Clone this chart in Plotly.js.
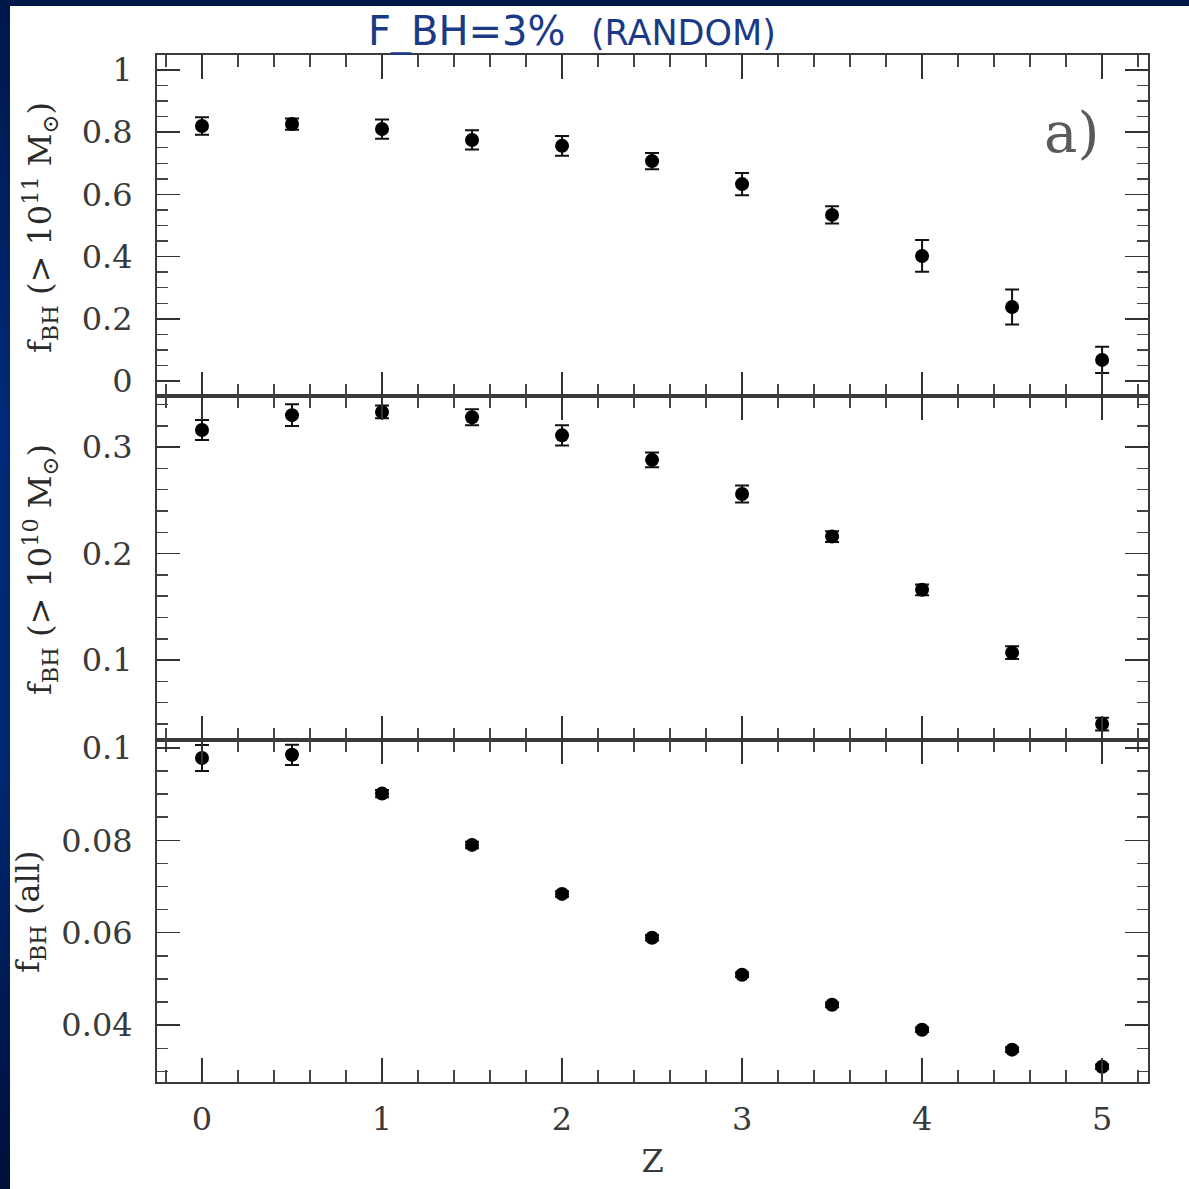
<!DOCTYPE html>
<html>
<head>
<meta charset="utf-8">
<script src="https://cdn.plot.ly/plotly-3.0.1.min.js"></script>
<style>
  html, body { margin: 0; padding: 0; width: 1189px; height: 1189px; overflow: hidden;
    background: linear-gradient(to bottom, #00174a 0%, #002a78 35%, #002870 65%, #000f3a 100%); }
  #top { position: absolute; left: 0; top: 0; width: 1189px; height: 6px; background: #00184a; }
  #chart { position: absolute; left: 10px; top: 6px; width: 1179px; height: 1183px; background: #fff; }
</style>
</head>
<body>
<div id="top"></div>
<div id="chart"></div>
<script>
// Redshift
const z = [0, 0.5, 1, 1.5, 2, 2.5, 3, 3.5, 4, 4.5, 5];

// Panel a (top): f_BH (> 1e11 Msun)
const fMassive = [0.820, 0.826, 0.810, 0.775, 0.756, 0.707, 0.633, 0.534, 0.402, 0.238, 0.068];
const fMassiveErr = [0.028, 0.018, 0.031, 0.031, 0.032, 0.026, 0.036, 0.028, 0.051, 0.056, 0.042];

// Middle: f_BH (> 1e10 Msun)
const fMid = [0.316, 0.330, 0.333, 0.328, 0.311, 0.288, 0.256, 0.216, 0.166, 0.107, 0.040];
const fMidErr = [0.0094, 0.0103, 0.006, 0.0075, 0.0094, 0.007, 0.008, 0.005, 0.005, 0.006, 0.006];

// Bottom: f_BH (all)
const fAll = [0.0978, 0.0985, 0.0901, 0.0790, 0.0684, 0.0589, 0.0509, 0.0444, 0.0390, 0.0347, 0.0310];
const fAllErr = [0.0028, 0.0022, 0.0008, 0.0007, 0.0006, 0.0006, 0.0005, 0.0005, 0.0005, 0.0005, 0.0005];

const titleText = 'F_BH=3%  <span style="font-size:35px">(RANDOM)</span>';
const yTitles = [
  'f<sub>BH</sub> (> 10<sup>11</sup> M<sub>⊙</sub>)',
  'f<sub>BH</sub> (> 10<sup>10</sup> M<sub>⊙</sub>)',
  'f<sub>BH</sub> (all)'
];

function series(y, err, ya, xa) {
  return {
    x: z, y: y, xaxis: xa, yaxis: ya, type: 'scatter', mode: 'markers',
    marker: { color: '#000', size: 14, symbol: 'circle' },
    error_y: { type: 'data', array: err, visible: true, color: '#111', thickness: 2, width: 7 },
    showlegend: false, hoverinfo: 'skip'
  };
}

const data = [
  series(fAll, fAllErr, 'y', 'x'),
  series(fMid, fMidErr, 'y2', 'x2'),
  series(fMassive, fMassiveErr, 'y3', 'x3')
];

const serif = 'DejaVu Serif, Liberation Serif, serif';
const tickFont = { family: serif, size: 32, color: '#3a3a3a' };
const lineCol = '#3a3a3a';

function xax(anchor, labels) {
  const a = {
    range: [-0.25, 5.255], anchor: anchor, showgrid: false, zeroline: false,
    showline: true, linecolor: lineCol, linewidth: 2, mirror: 'ticks',
    ticks: 'inside', ticklen: 24, tickwidth: 1.5, tickcolor: '#333', dtick: 1, tick0: 0,
    minor: { dtick: 0.2, ticks: 'inside', ticklen: 12, tickwidth: 1.5, tickcolor: '#444' },
    showticklabels: labels, tickfont: tickFont, ticklabelstandoff: 8
  };
  if (labels) {
    a.title = { text: 'Z', font: { family: serif, size: 32, color: '#3a3a3a' }, standoff: 12 };
  } else {
    a.matches = 'x';
  }
  return a;
}

function yax(domain, range, dtick, minor, anchor) {
  return {
    domain: domain, range: range, anchor: anchor, showgrid: false, zeroline: false,
    showline: true, linecolor: lineCol, linewidth: 2, mirror: 'ticks',
    ticks: 'inside', ticklen: 23, tickwidth: 1.5, tickcolor: '#333', dtick: dtick, tick0: 0,
    minor: { dtick: minor, ticks: 'inside', ticklen: 11, tickwidth: 1.5, tickcolor: '#444' },
    tickfont: tickFont, ticklabelstandoff: 16
  };
}

const W = 991; // plot width in px
function px2paper(px) { return (px - 157) / W; }
function py2paper(py) { return (1082 - py) / 1027; }

const annFont = { family: serif, size: 32, color: '#2a2a2a' };

const layout = {
  width: 1179, height: 1183,
  margin: { l: 147, r: 41, t: 49, b: 107 },
  paper_bgcolor: '#ffffff', plot_bgcolor: '#ffffff',
  title: {
    text: titleText, x: (572 - 10) / 1179, xanchor: 'center', y: 1 - (31 - 6) / 1183, yanchor: 'middle',
    font: { family: 'DejaVu Sans, sans-serif', size: 40, color: '#1b3a86' }
  },
  xaxis: xax('y', true),
  xaxis2: xax('y2', false),
  xaxis3: xax('y3', false),
  yaxis: yax([0, 0.333], [0.0277, 0.1017], 0.02, 0.005, 'x'),
  yaxis2: yax([0.333, 0.668], [0.025, 0.348], 0.1, 0.02, 'x2'),
  yaxis3: yax([0.668, 1], [-0.048, 1.048], 0.2, 0.05, 'x3'),
  annotations: [
    { text: yTitles[0], xref: 'paper', yref: 'paper', x: px2paper(40), y: py2paper(228), textangle: -90,
      xanchor: 'center', yanchor: 'middle', showarrow: false, font: annFont },
    { text: yTitles[1], xref: 'paper', yref: 'paper', x: px2paper(40), y: py2paper(570), textangle: -90,
      xanchor: 'center', yanchor: 'middle', showarrow: false, font: annFont },
    { text: yTitles[2], xref: 'paper', yref: 'paper', x: px2paper(30), y: py2paper(912), textangle: -90,
      xanchor: 'center', yanchor: 'middle', showarrow: false, font: annFont },
    { text: 'a)', xref: 'x3', yref: 'y3', x: 4.83, y: 0.80, xanchor: 'center', yanchor: 'middle',
      showarrow: false, font: { family: serif, size: 56, color: '#5a5a5a' } }
  ]
};

Plotly.newPlot('chart', data, layout, { displayModeBar: false, staticPlot: true });
</script>
</body>
</html>
